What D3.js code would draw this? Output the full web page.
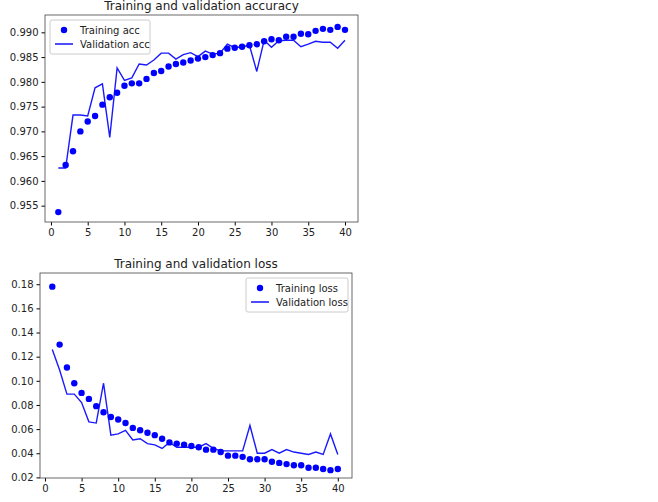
<!DOCTYPE html><html><head><script src="https://cdn.jsdelivr.net/npm/d3@7"></script>
<style>body{margin:0;background:#fff}text{font-family:"DejaVu Sans",sans-serif;fill:#222}</style></head><body>
<svg id="s" width="658" height="502"></svg>
<script>
const epochs = d3.range(1, 41);
const trainAcc = [.9537,.9632,.9660,.9700,.9720,.9731,.9754,.9769,.9778,.9792,.9797,.9797,.9806,.9818,.9822,.9831,.9836,.9839,.9843,.9847,.9850,.9854,.9858,.9867,.9869,.9871,.9874,.9876,.9882,.9886,.9884,.9891,.9891,.9897,.9896,.9903,.9907,.9905,.9911,.9905];
const valAcc = [.9626,.9626,.9733,.9733,.9731,.9788,.9796,.9688,.9828,.9803,.9808,.9836,.9834,.9844,.9858,.9858,.9846,.9855,.9859,.9851,.9862,.9856,.9858,.9876,.9869,.9871,.9874,.9821,.9884,.9870,.9883,.9884,.9884,.9871,.9876,.9882,.9880,.9880,.9868,.9884];
const trainLoss = [.178,.130,.111,.098,.090,.085,.079,.074,.070,.068,.065,.061,.059,.057,.055,.052,.049,.048,.047,.046,.045,.043,.043,.041,.038,.038,.037,.035,.035,.035,.033,.032,.031,.030,.030,.028,.028,.027,.026,.027];
const valLoss = [.126,.109,.089,.089,.082,.066,.065,.098,.055,.056,.059,.051,.052,.048,.047,.044,.049,.045,.045,.045,.045,.048,.044,.042,.042,.042,.042,.063,.040,.040,.043,.040,.043,.041,.040,.039,.041,.039,.056,.039];
const xTicks = [0,5,10,15,20,25,30,35,40];
const accTicks = [.955,.960,.965,.970,.975,.980,.985,.990];
const lossTicks = [.02,.04,.06,.08,.10,.12,.14,.16,.18];
const svg = d3.select("#s");
function panel(o){
  const g = svg.append("g");
  const x = d3.scaleLinear().domain(o.xd).range([o.l,o.r]);
  const y = d3.scaleLinear().domain(o.yd).range([o.b,o.t]);
  g.append("g").attr("transform",`translate(0,${o.b})`).call(d3.axisBottom(x).tickValues(xTicks).tickSize(3.5).tickPadding(3))
   .call(a=>{a.select(".domain").remove();a.selectAll("text").style("font-size","10px");});
  g.append("g").attr("transform",`translate(${o.l},0)`).call(d3.axisLeft(y).tickValues(o.yt).tickFormat(d3.format(o.fmt)).tickSize(3.5).tickPadding(3))
   .call(a=>{a.select(".domain").remove();a.selectAll("text").style("font-size","10px");});
  g.append("path").datum(epochs).attr("fill","none").attr("stroke","#0000ff").attr("stroke-width",1.4).attr("opacity",0.9)
   .attr("d",d3.line().x(d=>x(d)).y((d,i)=>y(o.val[i])));
  g.selectAll("circle").data(epochs).join("circle").attr("cx",d=>x(d)).attr("cy",(d,i)=>y(o.tr[i])).attr("r",3.2).attr("fill","#0000ff");
  g.append("rect").attr("x",o.l).attr("y",o.t).attr("width",o.r-o.l).attr("height",o.b-o.t).attr("fill","none").attr("stroke","#444").attr("stroke-width",0.8);
  g.append("text").attr("x",(o.l+o.r)/2).attr("y",o.t-5).attr("text-anchor","middle").style("font-size","12px").text(o.title);
  const lg = g.append("g").attr("transform",`translate(${o.lx},${o.ly})`);
  lg.append("rect").attr("width",o.lw).attr("height",34).attr("rx",2).attr("fill","#fff").attr("stroke","#ccc");
  lg.append("circle").attr("cx",14).attr("cy",10).attr("r",3.2).attr("fill","#0000ff");
  lg.append("line").attr("x1",5).attr("x2",23).attr("y1",24).attr("y2",24).attr("stroke","#0000ff").attr("stroke-width",1.4);
  lg.append("text").attr("x",30).attr("y",14).style("font-size","10px").text(o.n1);
  lg.append("text").attr("x",30).attr("y",28).style("font-size","10px").text(o.n2);
}
panel({l:45,r:358,t:15,b:222,xd:[-0.81,41.77],yd:[0.9517,0.9935],yt:accTicks,fmt:".3f",tr:trainAcc,val:valAcc,title:"Training and validation accuracy",lx:50,ly:20,lw:100,n1:"Training acc",n2:"Validation acc"});
panel({l:40,r:352,t:273,b:478,xd:[-0.68,41.94],yd:[0.0195,0.1893],yt:lossTicks,fmt:".2f",tr:trainLoss,val:valLoss,title:"Training and validation loss",lx:246,ly:278,lw:102,n1:"Training loss",n2:"Validation loss"});
</script></body></html>
